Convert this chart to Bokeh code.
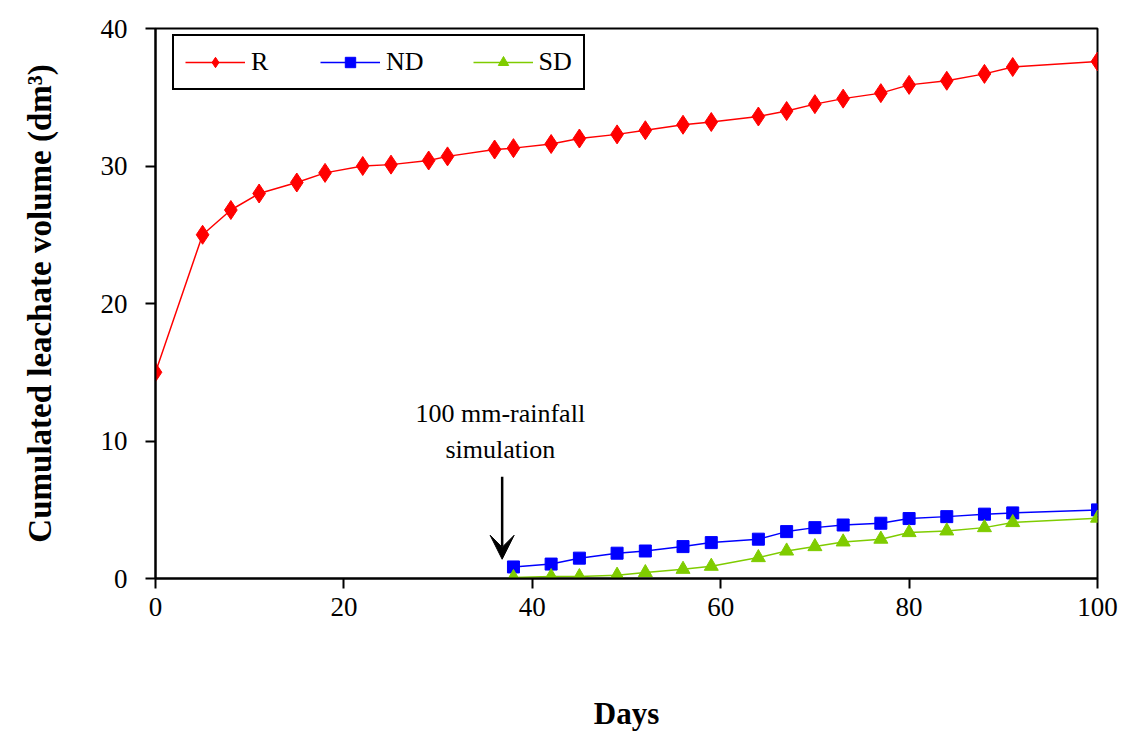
from bokeh.plotting import figure
from bokeh.models import Range1d, Legend, LegendItem, Label, Arrow, VeeHead, FixedTicker
from bokeh.embed import file_html
from bokeh.resources import INLINE

# ---- data ----
r_days = [0, 5, 8, 11, 15, 18, 22, 25, 29, 31, 36, 38, 42, 45, 49, 52, 56, 59,
          64, 67, 70, 73, 77, 80, 84, 88, 91, 100]
r_vals = [15.0, 25.0, 26.8, 28.0, 28.8, 29.5, 30.0, 30.1, 30.4, 30.7, 31.2, 31.3,
          31.6, 32.0, 32.3, 32.6, 33.0, 33.2, 33.6, 34.0, 34.5, 34.9, 35.3, 35.9,
          36.2, 36.7, 37.2, 37.6]
d_days = [38, 42, 45, 49, 52, 56, 59, 64, 67, 70, 73, 77, 80, 84, 88, 91, 100]
nd_vals = [0.84, 1.05, 1.48, 1.84, 2.0, 2.32, 2.61, 2.86, 3.41, 3.70, 3.89, 4.02,
           4.36, 4.50, 4.68, 4.77, 4.99]
sd_vals = [0.07, 0.14, 0.14, 0.24, 0.43, 0.67, 0.89, 1.52, 2.0, 2.32, 2.66, 2.86,
           3.34, 3.46, 3.70, 4.07, 4.39]
x_ticks = [0, 20, 40, 60, 80, 100]
y_ticks = [0, 10, 20, 30, 40]
annot_lines = ["100 mm-rainfall", "simulation"]
y_title = "Cumulated leachate volume (dm³)"
x_title = "Days"

FONT = "Liberation Serif"
RED = "#FF0000"
BLUE = "#0000FF"
GREEN = "#7FCC00"

p = figure(width=1118, height=734, output_backend="svg", toolbar_location=None,
           x_range=Range1d(0, 100), y_range=Range1d(0, 40),
           min_border_left=155, min_border_right=21, min_border_top=28,
           min_border_bottom=156)
p.xgrid.visible = False
p.ygrid.visible = False
p.outline_line_color = "black"
p.outline_line_width = 2
p.background_fill_color = "white"
p.border_fill_color = "white"

for ax in (p.xaxis[0], p.yaxis[0]):
    ax.axis_line_width = 2
    ax.axis_line_color = "black"
    ax.major_tick_line_width = 2
    ax.major_tick_in = 0
    ax.major_tick_out = 10
    ax.minor_tick_line_color = None
    ax.major_label_text_font = FONT
    ax.major_label_text_font_size = "27px"
    ax.major_label_text_color = "black"
    ax.axis_label_text_font = FONT
    ax.axis_label_text_font_style = "bold"
    ax.axis_label_text_color = "black"

p.xaxis.ticker = FixedTicker(ticks=x_ticks)
p.yaxis.ticker = FixedTicker(ticks=y_ticks)
p.xaxis.axis_label = x_title
p.yaxis.axis_label = y_title
p.xaxis.axis_label_text_font_size = "31px"
p.yaxis.axis_label_text_font_size = "33px"
p.xaxis.major_label_standoff = 9
p.yaxis.major_label_standoff = 18
p.xaxis.axis_label_standoff = 77
p.yaxis.axis_label_standoff = 40

lr = p.line(r_days, r_vals, line_color=RED, line_width=1.5)
sr = p.scatter(r_days, r_vals, marker="diamond", size=19, fill_color=RED, line_color=RED)
ln = p.line(d_days, nd_vals, line_color=BLUE, line_width=1.5)
sn = p.scatter(d_days, nd_vals, marker="square", size=12, fill_color=BLUE, line_color=BLUE)
ls = p.line(d_days, sd_vals, line_color=GREEN, line_width=1.5)
ss = p.scatter(d_days, sd_vals, marker="triangle", size=14, fill_color=GREEN, line_color=GREEN)

legend = Legend(items=[LegendItem(label="R", renderers=[lr, sr]),
                       LegendItem(label="ND", renderers=[ln, sn]),
                       LegendItem(label="SD", renderers=[ls, ss])],
                orientation="horizontal", location=(17, 488),
                label_text_font=FONT, label_text_font_size="26px",
                label_text_color="black",
                glyph_width=60, glyph_height=26, label_standoff=6, spacing=49,
                padding=11, margin=0,
                border_line_color="black", border_line_width=2, border_line_alpha=1.0,
                background_fill_alpha=1.0)
p.add_layout(legend, "center")

p.add_layout(Label(x=36.6, y=11.97, text=annot_lines[0], text_align="center",
                   text_baseline="middle", text_font=FONT, text_font_size="26px",
                   text_color="black"))
p.add_layout(Label(x=36.6, y=9.35, text=annot_lines[1], text_align="center",
                   text_baseline="middle", text_font=FONT, text_font_size="26px",
                   text_color="black"))
p.add_layout(Arrow(x_start=36.8, y_start=7.4, x_end=36.8, y_end=1.4,
                   line_width=2.5, line_color="black",
                   end=VeeHead(size=24, fill_color="black", line_color="black")))

open("out.html", "w").write(file_html(p, INLINE))
